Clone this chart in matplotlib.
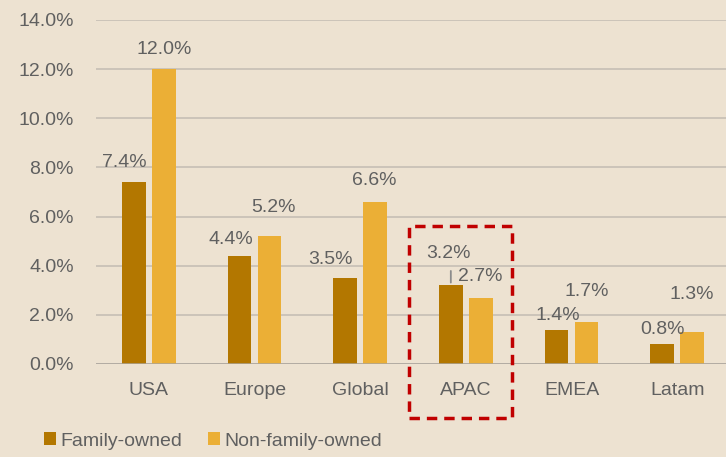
import matplotlib
matplotlib.use("Agg")
import matplotlib.pyplot as plt
from matplotlib.patches import Rectangle
import numpy as np

plt.rcParams['font.family'] = ['Liberation Sans', 'DejaVu Sans']

categories = ["USA", "Europe", "Global", "APAC", "EMEA", "Latam"]
family = [7.4, 4.4, 3.5, 3.2, 1.4, 0.8]
nonfamily = [12.0, 5.2, 6.6, 2.7, 1.7, 1.3]
series_names = ["Family-owned", "Non-family-owned"]
yticks = [0, 2, 4, 6, 8, 10, 12, 14]

# label offsets in pixels (dx, dy) - layout only
fam_off = [(-10, 20), (-9, 16), (-15, 19), (-2, 32), (1, 14), (0, 15)]
non_off = [(0, 20), (4, 29), (-1, 21), (-1, 21), (0, 31), (0, 38)]

BG = "#EDE2D1"
C_FAM = "#B37700"
C_NON = "#EBAF36"
TXT = "#606060"
FS = 14

fig = plt.figure(figsize=(7.26, 4.57), dpi=100, facecolor=BG)
ax = fig.add_axes([96/726, 1-364/457, 634/726, 344/457])
ax.set_facecolor(BG)

x = np.arange(len(categories))
w = 0.227
off = 0.142
b1 = ax.bar(x - off, family, w, color=C_FAM, zorder=3, label=series_names[0])
b2 = ax.bar(x + off, nonfamily, w, color=C_NON, zorder=3, label=series_names[1])

ax.set_xlim(-0.5, len(categories) - 0.5)
ax.set_ylim(0, 14)
ax.set_yticks(yticks)
ax.set_yticklabels([f"{v:.1f}%" for v in yticks])
ax.set_xticks(x)
ax.set_xticklabels(categories)
ax.tick_params(axis="both", length=0, labelsize=FS, colors=TXT)
ax.tick_params(axis="y", pad=16)
ax.tick_params(axis="x", pad=13)
for s in ax.spines.values():
    s.set_visible(False)
ax.grid(axis="y", color="#C3BCB2", lw=1.1, zorder=0)
ax.axhline(0, color="#ABA59C", lw=1.8, zorder=4)

for i in range(len(categories)):
    ax.annotate(f"{family[i]:.1f}%", (x[i] - off, family[i]), xytext=fam_off[i],
                textcoords="offset pixels", ha="center", va="center",
                fontsize=FS, color=TXT, zorder=5)
    ax.annotate(f"{nonfamily[i]:.1f}%", (x[i] + off, nonfamily[i]), xytext=non_off[i],
                textcoords="offset pixels", ha="center", va="center",
                fontsize=FS, color=TXT, zorder=5)

# leader line for APAC family label
ia = categories.index("APAC")
ax.annotate("", (x[ia] - off, family[ia]), xytext=(x[ia] - off, family[ia] + 0.7),
            arrowprops=dict(arrowstyle="-", color="#8C8C8C", lw=1.3), zorder=5)

# dashed highlight box around APAC (figure coords)
rect = Rectangle((409/726, 1-418/457), 103/726, 192/457, transform=fig.transFigure,
                 fill=False, edgecolor="#C00000", lw=2.5, linestyle=(0, (3, 2)), zorder=10)
fig.patches.append(rect)

leg = fig.legend(handles=[b1, b2], labels=series_names, loc="center left",
                 bbox_to_anchor=(26/726, 1-441/457), ncol=2, frameon=False,
                 fontsize=FS, handlelength=0.62, handleheight=0.62, handletextpad=0.25,
                 columnspacing=1.3, labelcolor=TXT)

fig.savefig("out.png", dpi=100, facecolor=BG)
